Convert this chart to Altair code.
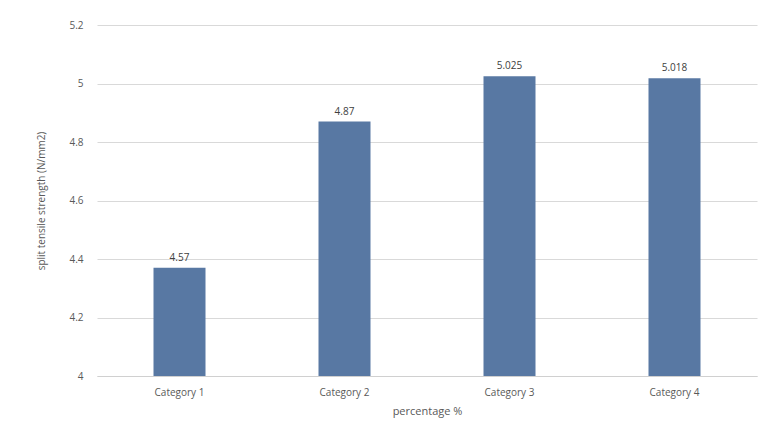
import altair as alt
import pandas as pd

categories = ["Category 1", "Category 2", "Category 3", "Category 4"]
values = [4.37, 4.87, 5.025, 5.018]
labels = ["4.57", "4.87", "5.025", "5.018"]
y_ticks = [4.0, 4.2, 4.4, 4.6, 4.8, 5.0, 5.2]

df = pd.DataFrame({"cat": categories, "val": values, "lab": labels})

FONT = "Open Sans"
base = alt.Chart(df)

x_enc = alt.X("cat:N", sort=categories, title="percentage %",
              scale=alt.Scale(paddingInner=0.6, paddingOuter=0.3),
              axis=alt.Axis(labelAngle=0, ticks=False, grid=False, domain=True,
                            domainColor="#d0d0d0",
                            labelPadding=11, labelColor="#595959", labelFontSize=10,
                            titleColor="#595959", titleFontSize=11, titleFontWeight="normal",
                            titlePadding=8, labelFont=FONT, titleFont=FONT))
y_enc = alt.Y("val:Q", title="split tensile strength (N/mm2)",
              scale=alt.Scale(domain=[4, 5.2], zero=False),
              axis=alt.Axis(values=y_ticks, format="~g", ticks=False, domain=False,
                            grid=True, gridColor="#d9d9d9", labelPadding=14,
                            labelColor="#595959", labelFontSize=10, titleColor="#595959",
                            titleFontSize=10, titleFontWeight="normal", titlePadding=22,
                            labelFont=FONT, titleFont=FONT))

bars = base.mark_bar(color="#5878a3", size=52, clip=True).encode(x=x_enc, y=y_enc)

text = base.mark_text(dy=-10, fontSize=10, color="#404040", font=FONT).encode(
    x=x_enc, y=y_enc, text="lab:N",
)

chart = (bars + text).properties(
    width=660, height=351,
    background="white",
    autosize=alt.AutoSizeParams(type="none"),
    padding={"left": 89, "top": 17, "right": 4, "bottom": 55},
).configure_view(stroke="transparent", strokeWidth=0)

chart.save("out.html", embed_options={"renderer": "svg", "actions": False})
